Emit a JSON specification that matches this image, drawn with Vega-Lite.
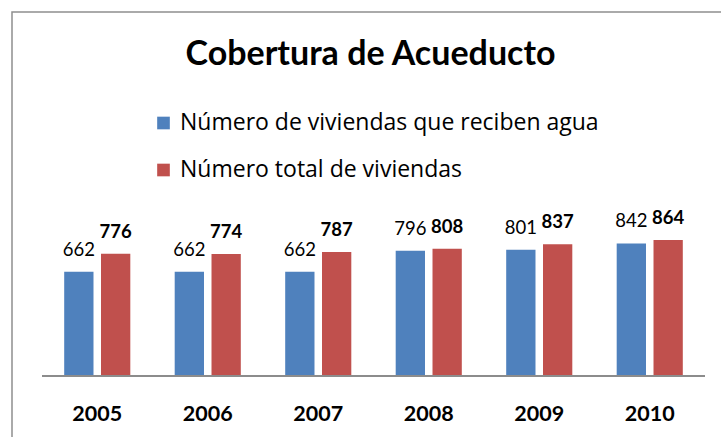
{
  "$schema": "https://vega.github.io/schema/vega-lite/v6.json",
  "width": 723,
  "height": 430,
  "autosize": {"type": "none"},
  "padding": {"left": 12, "top": 12, "right": 0, "bottom": 0},
  "background": "white",
  "config": {
    "view": {"stroke": "#8f8f8f", "strokeWidth": 1.5},
    "font": "Lato"
  },
  "title": {
    "text": "Cobertura de Acueducto",
    "font": "Lato",
    "fontSize": 34,
    "fontWeight": "bold",
    "color": "black",
    "anchor": "middle",
    "baseline": "alphabetic",
    "offset": -87,
    "dx": -3
  },
  "data": {
    "values": [
      {"year": "2005", "serie": "Número de viviendas que reciben agua", "value": 662},
      {"year": "2005", "serie": "Número total de viviendas", "value": 776},
      {"year": "2006", "serie": "Número de viviendas que reciben agua", "value": 662},
      {"year": "2006", "serie": "Número total de viviendas", "value": 774},
      {"year": "2007", "serie": "Número de viviendas que reciben agua", "value": 662},
      {"year": "2007", "serie": "Número total de viviendas", "value": 787},
      {"year": "2008", "serie": "Número de viviendas que reciben agua", "value": 796},
      {"year": "2008", "serie": "Número total de viviendas", "value": 808},
      {"year": "2009", "serie": "Número de viviendas que reciben agua", "value": 801},
      {"year": "2009", "serie": "Número total de viviendas", "value": 837},
      {"year": "2010", "serie": "Número de viviendas que reciben agua", "value": 842},
      {"year": "2010", "serie": "Número total de viviendas", "value": 864}
    ]
  },
  "encoding": {
    "x": {
      "field": "year",
      "type": "nominal",
      "scale": {"paddingInner": 0, "paddingOuter": 0.2715},
      "axis": {
        "orient": "bottom",
        "offset": -66,
        "domain": false,
        "ticks": false,
        "tickSize": 0,
        "grid": false,
        "title": null,
        "labelAngle": 0,
        "labelBaseline": "alphabetic",
        "labelPadding": 44.7,
        "labelFont": "Lato",
        "labelFontSize": 21.5,
        "labelFontWeight": "bold",
        "labelColor": "black"
      }
    },
    "y": {
      "field": "value",
      "type": "quantitative",
      "scale": {"domain": [-419, 2311], "nice": false, "zero": false},
      "axis": null
    }
  },
  "layer": [
    {
      "mark": {"type": "bar"},
      "encoding": {
        "xOffset": {
          "field": "serie",
          "type": "nominal",
          "scale": {
            "domain": ["Número de viviendas que reciben agua", "Número total de viviendas"],
            "paddingInner": 0.204,
            "paddingOuter": 0.603
          }
        },
        "y2": {"datum": 0},
        "color": {
          "field": "serie",
          "type": "nominal",
          "scale": {
            "domain": ["Número de viviendas que reciben agua", "Número total de viviendas"],
            "range": ["#4F81BD", "#C0504D"]
          },
          "legend": {
            "orient": "none",
            "legendX": 140,
            "legendY": 99.5,
            "direction": "vertical",
            "title": null,
            "padding": 0,
            "symbolType": "square",
            "symbolSize": 160,
            "symbolStrokeWidth": 0,
            "labelFont": "Open Sans",
            "labelFontSize": 23,
            "labelColor": "black",
            "labelOffset": 5,
            "labelLimit": 0,
            "rowPadding": 23
          }
        }
      }
    },
    {
      "transform": [{"filter": "datum.serie === 'Número de viviendas que reciben agua'"}],
      "mark": {"type": "text", "font": "Lato", "fontSize": 18.5, "baseline": "alphabetic", "dy": -16, "color": "black"},
      "encoding": {
        "xOffset": {"field": "serie", "type": "nominal"},
        "text": {"field": "value", "type": "quantitative"}
      }
    },
    {
      "transform": [{"filter": "datum.serie === 'Número total de viviendas'"}],
      "mark": {"type": "text", "font": "Lato", "fontSize": 18.5, "fontWeight": "bold", "baseline": "alphabetic", "dy": -16, "color": "black"},
      "encoding": {
        "xOffset": {"field": "serie", "type": "nominal"},
        "text": {"field": "value", "type": "quantitative"}
      }
    },
    {
      "mark": {"type": "rule", "color": "#8c8c8c", "strokeWidth": 2},
      "encoding": {
        "x": {"datum": "2005", "type": "nominal", "bandPosition": 0},
        "x2": {"datum": "2010", "bandPosition": 1},
        "y": {"datum": 0, "type": "quantitative"}
      }
    }
  ]
}
